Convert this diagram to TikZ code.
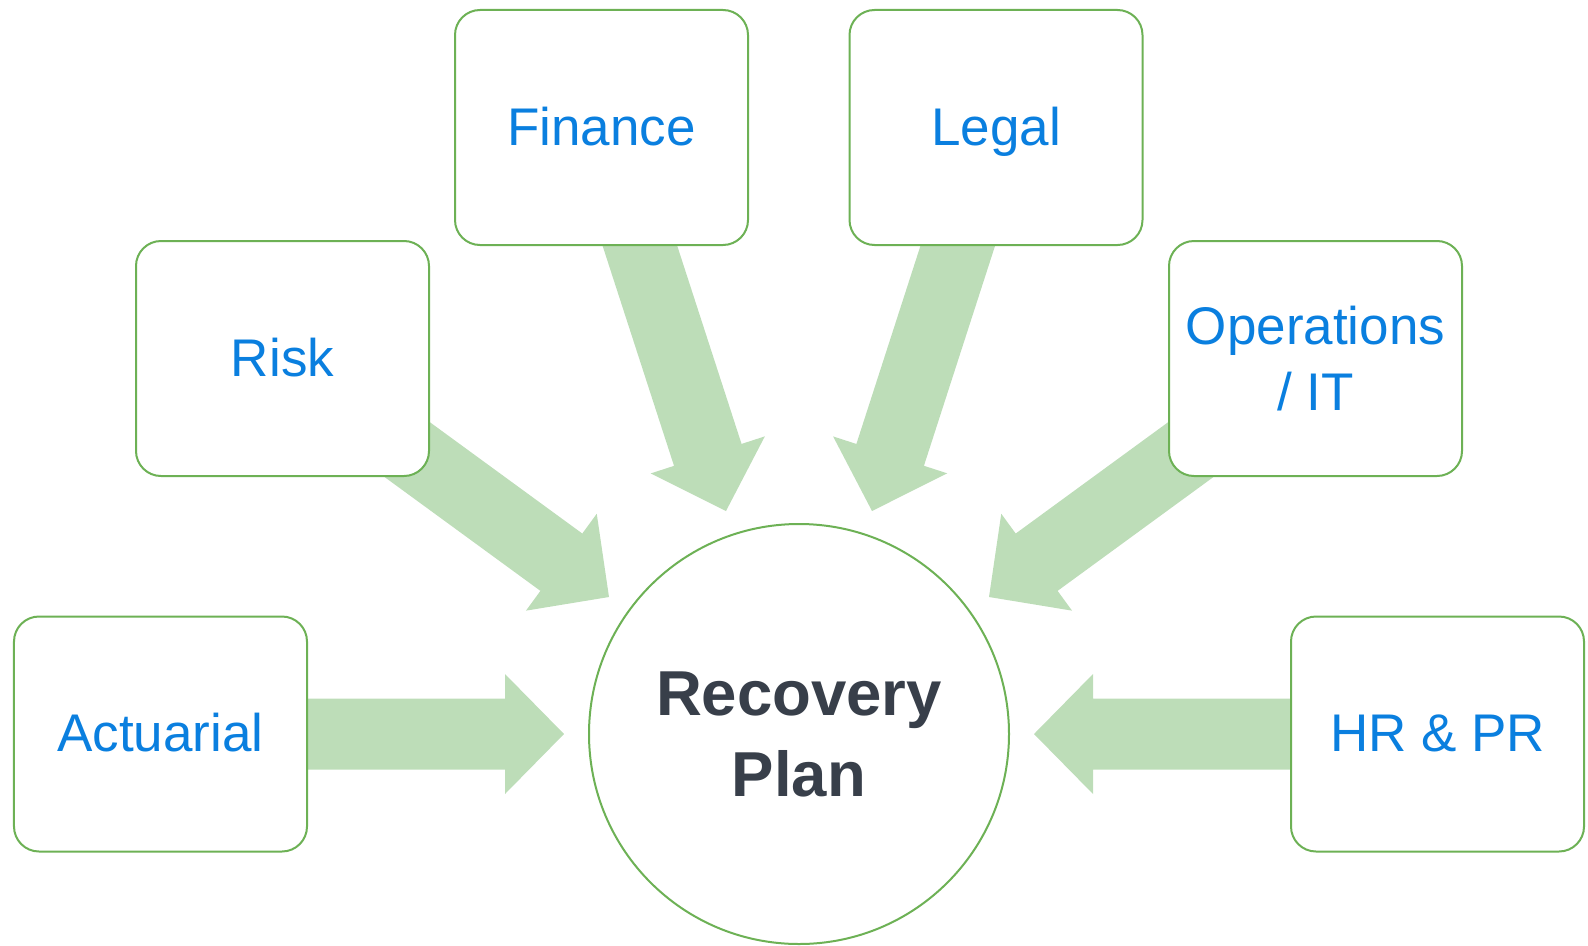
\documentclass[tikz,border=0pt]{standalone}
\usepackage{fontspec}
\setmainfont{Liberation Sans}
\usetikzlibrary{calc,backgrounds}
\definecolor{boxgreen}{HTML}{6DB155}
\definecolor{arrowgreen}{HTML}{BDDDB8}
\definecolor{labelblue}{HTML}{0A7FDF}
\definecolor{darktext}{HTML}{383F4A}
\tikzset{
  dept/.style={draw=boxgreen, line width=2bp, fill=white, rounded corners=25bp,
    minimum width=293bp, minimum height=235bp, inner sep=0pt, text=labelblue,
    font=\fontsize{53bp}{66bp}\selectfont, align=center},
  oneline/.style={text height=35bp, text depth=0bp},
  hub/.style={circle, draw=boxgreen, line width=2bp, fill=white, minimum size=420bp,
    inner sep=0pt, text=darktext, font=\bfseries\fontsize{63.5bp}{81bp}\selectfont, align=center},
  blockfill/.style={fill=arrowgreen}
}
\newcommand\blockarrow[2]{%
  \coordinate (bah) at ($(#2)!59bp!(#1)$);
  \fill[blockfill] ($(#1)!35.5bp!90:(#2)$) -- ($(bah)!35.5bp!90:(#2)$) -- ($(bah)!60bp!90:(#2)$)
    -- (#2) -- ($(bah)!60bp!-90:(#2)$) -- ($(bah)!35.5bp!-90:(#2)$) -- ($(#1)!35.5bp!-90:(#2)$) -- cycle;}
\begin{document}
\begin{tikzpicture}[x=1bp,y=-1bp]
\useasboundingbox (0,0) rectangle (1588,945);
\node[dept,oneline] (finance) at (601.5,127.5) {Finance};
\node[dept,oneline] (legal) at (996,127.5) {Legal};
\node[dept,oneline] (risk) at (282.5,358.5) {Risk};
\node[dept] (ops) at (1315.5,358.5) {Operations\\/ IT};
\node[dept,oneline] (act) at (160.5,734) {Actuarial};
\node[dept,oneline] (hr) at (1437.5,734) {HR \& PR};
\node[hub] (plan) at (799,734) {Recovery\\Plan};
\coordinate (tAct) at (564,734);
\coordinate (tHr) at (1034,734);
\coordinate (tRisk) at (609,597);
\coordinate (tOps) at (989,597);
\coordinate (tFin) at (726,511);
\coordinate (tLeg) at (872,511);
\begin{scope}[on background layer]
\blockarrow{act.center}{tAct}
\blockarrow{hr.center}{tHr}
\blockarrow{risk.center}{tRisk}
\blockarrow{ops.center}{tOps}
\blockarrow{finance.center}{tFin}
\blockarrow{legal.center}{tLeg}
\end{scope}
\end{tikzpicture}
\end{document}
